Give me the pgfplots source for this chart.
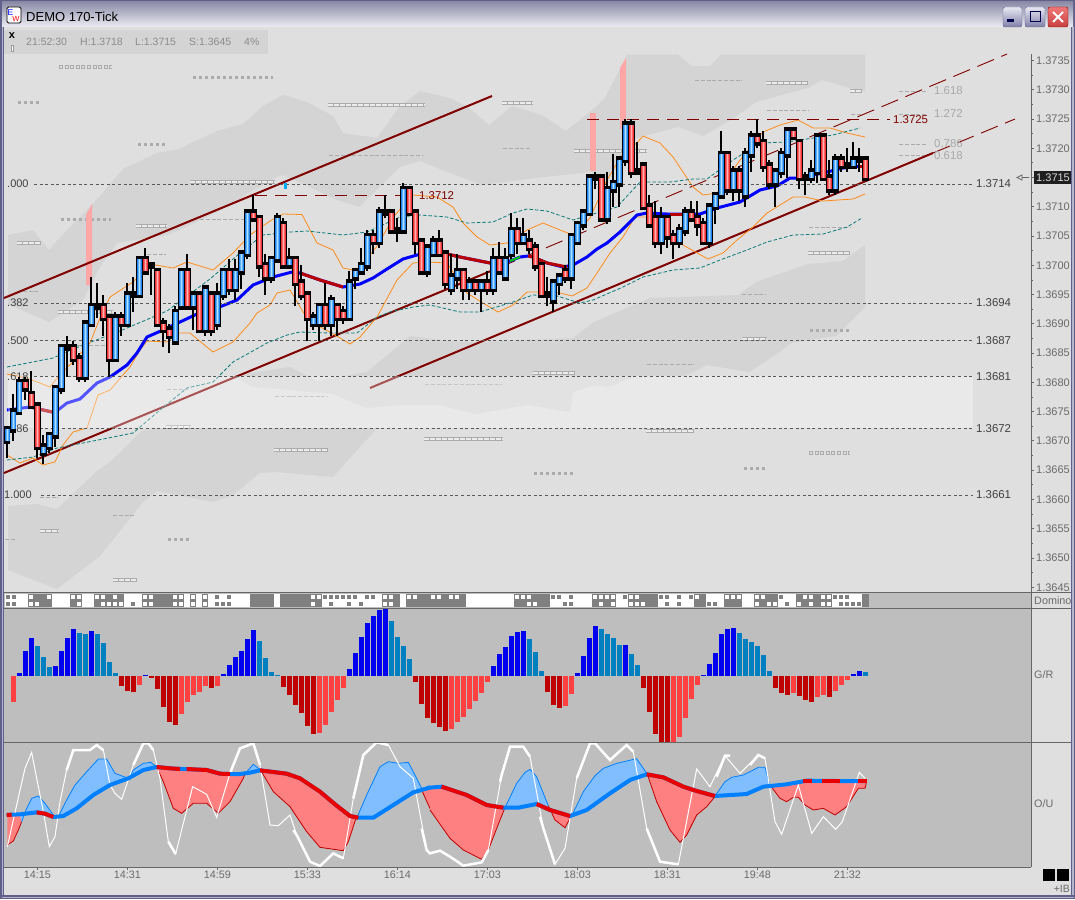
\documentclass[border=0pt]{standalone}
\usepackage{fontspec}
\setmainfont{Liberation Sans}
\usepackage{pgfplots}
\usepackage{pgfplotstable}
\pgfplotsset{compat=1.18}
\newcommand\fs[1]{\fontsize{#1}{#1}\selectfont}
\definecolor{bgc}{HTML}{DFDFDF}
\definecolor{cloud}{HTML}{D4D4D4}
\definecolor{panel}{HTML}{BEBEBE}
\definecolor{chan}{HTML}{800000}
\definecolor{lab}{HTML}{6A6A6A}
\definecolor{fibg}{HTML}{A8A8A8}
\definecolor{mk}{HTML}{ABABAB}
\definecolor{dom}{HTML}{808080}
\definecolor{orng}{HTML}{FF8C1A}
\definecolor{teal2}{HTML}{0A7A78}
\definecolor{mred}{HTML}{B80000}
\definecolor{ured}{HTML}{E80000}
\definecolor{ublue}{HTML}{0080FF}
\definecolor{fred}{HTML}{FF8080}
\definecolor{fblue}{HTML}{80BEFF}
\definecolor{barb}{HTML}{0000F0}
\definecolor{bars}{HTML}{0080C0}
\definecolor{bard}{HTML}{C00000}
\definecolor{barl}{HTML}{FF4040}
\definecolor{frm}{HTML}{60608A}
\definecolor{frl}{HTML}{B4B4CC}

\pgfplotstableread{
k L lo hi H
0 1.3667 1.3670 1.3672 1.3672
1 1.3670 1.3672 1.3675 1.3678
2 1.3675 1.3675 1.3680 1.3681
6 1.3666 1.3668 1.3669 1.3671
7 1.3668 1.3669 1.3671 1.3671
8 1.3669 1.3671 1.3679 1.3679
9 1.3678 1.3679 1.3686 1.3686
13 1.3680 1.3681 1.3690 1.3690
14 1.3690 1.3690 1.3693 1.3698
18 1.3684 1.3684 1.3691 1.3692
20 1.3690 1.3690 1.3695 1.3697
22 1.3695 1.3695 1.3701 1.3701
28 1.3687 1.3687 1.3692 1.3693
29 1.3693 1.3693 1.3699 1.3699
31 1.3689 1.3693 1.3695 1.3695
33 1.3688 1.3689 1.3696 1.3696
35 1.3689 1.3690 1.3695 1.3697
36 1.3694 1.3695 1.3699 1.3699
38 1.3694 1.3696 1.3699 1.3701
39 1.3696 1.3699 1.3702 1.3702
40 1.3701 1.3702 1.3709 1.3709
44 1.3697 1.3698 1.3701 1.3701
45 1.3701 1.3701 1.3708 1.3709
47 1.3700 1.3700 1.3701 1.3703
51 1.3689 1.3690 1.3691 1.3692
52 1.3687 1.3690 1.3693 1.3693
54 1.3688 1.3690 1.3694 1.3695
57 1.3691 1.3691 1.3697 1.3699
58 1.3696 1.3698 1.3699 1.3699
59 1.3699 1.3699 1.3700 1.3703
60 1.3699 1.3700 1.3705 1.3706
62 1.3703 1.3704 1.3709 1.3710
66 1.3706 1.3706 1.3713 1.3714
70 1.3698 1.3699 1.3703 1.3703
71 1.3702 1.3702 1.3704 1.3705
74 1.3695 1.3696 1.3698 1.3702
75 1.3696 1.3698 1.3699 1.3702
77 1.3694 1.3696 1.3697 1.3698
79 1.3692 1.3696 1.3697 1.3697
81 1.3695 1.3696 1.3701 1.3703
83 1.3698 1.3698 1.3701 1.3703
84 1.3701 1.3702 1.3706 1.3709
86 1.3704 1.3704 1.3705 1.3708
91 1.3692 1.3694 1.3697 1.3697
92 1.3695 1.3697 1.3698 1.3698
94 1.3696 1.3698 1.3705 1.3705
95 1.3704 1.3704 1.3707 1.3707
96 1.3706 1.3707 1.3709 1.3709
97 1.3709 1.3709 1.3715 1.3715
100 1.3707 1.3708 1.3713 1.3716
101 1.3710 1.3713 1.3714 1.3719
102 1.3710 1.3714 1.3718 1.3718
103 1.3717 1.3718 1.3724 1.3725
109 1.3702 1.3704 1.3708 1.3710
112 1.3703 1.3704 1.3706 1.3707
113 1.3705 1.3706 1.3709 1.3710
117 1.3703 1.3704 1.3710 1.3710
118 1.3707 1.3710 1.3712 1.3712
119 1.3712 1.3712 1.3719 1.3723
121 1.3711 1.3713 1.3716 1.3717
123 1.3710 1.3712 1.3719 1.3720
124 1.3716 1.3719 1.3722 1.3723
128 1.3710 1.3714 1.3716 1.3716
129 1.3715 1.3716 1.3719 1.3720
130 1.3715 1.3719 1.3723 1.3723
134 1.3714 1.3715 1.3716 1.3718
135 1.3714 1.3716 1.3722 1.3722
138 1.3712 1.3713 1.3718 1.3719
141 1.3717 1.3717 1.3718 1.3721
}\tblBlue
\pgfplotstableread{
k L lo hi H
3 1.3677 1.3679 1.3680 1.3681
4 1.3676 1.3676 1.3678 1.3682
5 1.3667 1.3669 1.3676 1.3676
11 1.3683 1.3684 1.3686 1.3687
12 1.3680 1.3681 1.3684 1.3685
16 1.3688 1.3691 1.3693 1.3695
17 1.3681 1.3684 1.3691 1.3691
19 1.3688 1.3690 1.3691 1.3692
23 1.3699 1.3699 1.3701 1.3703
25 1.3690 1.3690 1.3699 1.3699
26 1.3686 1.3689 1.3690 1.3691
27 1.3685 1.3688 1.3689 1.3690
30 1.3693 1.3693 1.3699 1.3702
32 1.3689 1.3689 1.3695 1.3695
34 1.3688 1.3689 1.3695 1.3695
37 1.3695 1.3696 1.3699 1.3701
41 1.3708 1.3708 1.3709 1.3712
42 1.3698 1.3700 1.3708 1.3708
43 1.3695 1.3698 1.3700 1.3702
46 1.3700 1.3700 1.3707 1.3708
48 1.3693 1.3697 1.3701 1.3701
49 1.3694 1.3695 1.3697 1.3700
50 1.3687 1.3691 1.3695 1.3695
53 1.3689 1.3690 1.3693 1.3697
55 1.3688 1.3691 1.3693 1.3693
56 1.3690 1.3691 1.3692 1.3693
61 1.3702 1.3704 1.3705 1.3706
64 1.3706 1.3706 1.3709 1.3709
67 1.3709 1.3709 1.3713 1.3713
68 1.3702 1.3704 1.3709 1.3709
69 1.3699 1.3699 1.3704 1.3704
72 1.3702 1.3702 1.3704 1.3706
73 1.3696 1.3697 1.3702 1.3702
76 1.3694 1.3696 1.3699 1.3699
78 1.3695 1.3696 1.3697 1.3697
80 1.3695 1.3696 1.3697 1.3699
82 1.3699 1.3699 1.3701 1.3704
85 1.3702 1.3704 1.3706 1.3708
87 1.3702 1.3703 1.3704 1.3706
88 1.3699 1.3700 1.3703 1.3704
89 1.3695 1.3695 1.3700 1.3700
93 1.3697 1.3698 1.3699 1.3700
99 1.3708 1.3708 1.3715 1.3715
104 1.3715 1.3716 1.3724 1.3725
106 1.3710 1.3710 1.3717 1.3717
107 1.3707 1.3707 1.3710 1.3712
108 1.3703 1.3704 1.3708 1.3711
110 1.3703 1.3705 1.3708 1.3708
111 1.3701 1.3704 1.3705 1.3706
114 1.3708 1.3708 1.3709 1.3711
115 1.3705 1.3707 1.3708 1.3711
116 1.3704 1.3704 1.3707 1.3708
120 1.3712 1.3713 1.3719 1.3719
122 1.3711 1.3713 1.3716 1.3717
125 1.3720 1.3721 1.3722 1.3725
126 1.3716 1.3717 1.3721 1.3723
127 1.3713 1.3714 1.3717 1.3718
131 1.3722 1.3722 1.3723 1.3723
132 1.3713 1.3715 1.3721 1.3721
136 1.3715 1.3715 1.3722 1.3722
137 1.3712 1.3713 1.3715 1.3718
139 1.3716 1.3717 1.3718 1.3719
143 1.3715 1.3715 1.3718 1.3718
}\tblRed
\pgfplotstableread{
k L lo hi H
10 1.3681 1.3686 1.3686 1.3688
15 1.3691 1.3693 1.3693 1.3697
21 1.3692 1.3695 1.3695 1.3698
24 1.3695 1.3700 1.3700 1.3700
63 1.3708 1.3709 1.3709 1.3712
65 1.3704 1.3706 1.3706 1.3708
90 1.3693 1.3695 1.3695 1.3698
98 1.3713 1.3715 1.3715 1.3716
105 1.3716 1.3716 1.3716 1.3721
133 1.3712 1.3715 1.3715 1.3716
140 1.3716 1.3717 1.3717 1.3720
142 1.3716 1.3718 1.3718 1.3720
}\tblDoji

% a layer of candle: thick vertical error bars from the table
\newcommand\wick[1]{\addplot[draw=none,mark=none,forget plot,error bars/.cd,y dir=plus,y explicit,error mark=none,error bar style={draw=black,line width=2pt}] table[x=k,y=L,y error expr=\thisrow{H}-\thisrow{L}]{#1};}
\newcommand\bodyb[1]{\addplot[draw=none,mark=none,forget plot,error bars/.cd,y dir=plus,y explicit,error mark=none,error bar style={draw=black,line width=6.4pt}] table[x=k,y expr=\thisrow{lo}-0.00006,y error expr=\thisrow{hi}-\thisrow{lo}+0.00012]{#1};}
\newcommand\bodyc[3]{\addplot[draw=none,mark=none,forget plot,error bars/.cd,y dir=plus,y explicit,error mark=none,error bar style={draw=#2,line width=#3}] table[x=k,y=lo,y error expr=\thisrow{hi}-\thisrow{lo}]{#1};}

% marks of the profile rows (image pixel coordinates)
\newcommand\rowdots[3]{\addplot[color=mk,line width=3pt,dash pattern=on 3pt off 3pt] coordinates {(#1,#3)(#2,#3)};}
\newcommand\rowopen[3]{\addplot[color=mk,line width=4pt,dash pattern=on 4pt off 1.6pt] coordinates {(#1,#3)(#2,#3)};\addplot[color=bgc,line width=2pt,dash pattern=on 2pt off 3.6pt,dash phase=-1pt] coordinates {(#1,#3)(#2,#3)};}
\newcommand\rowbar[3]{\addplot[color=mk,line width=3.4pt] coordinates {(#1,#3)(#2,#3)};\addplot[color=bgc!60!white,line width=1.4pt,dash pattern=on 5pt off 1pt] coordinates {(#1,#3)(#2,#3)};}
\newcommand\rowdash[3]{\addplot[color=mk,line width=1pt,dash pattern=on 4pt off 1.8pt] coordinates {(#1,#3)(#2,#3)};}
\newcommand\fibl[3]{\addplot[color=black!65,line width=.8pt,dash pattern=on 3pt off 2.6pt] coordinates {(#1,#3)(#2,#3)};}
\newcommand\dom[2]{\addplot[fill=dom,draw=none] coordinates {(#1,594)(#2,594)(#2,607)(#1,607)} --cycle;}

\begin{document}
\begin{tikzpicture}
\useasboundingbox (0pt,0pt) rectangle (1075pt,-899pt);
\begin{scope}[x=1pt,y=-1pt]
% window frame
\fill[frm] (0,0) rectangle (1075,899);
\shade[top color={rgb,255:red,140;green,140;blue,168},bottom color={rgb,255:red,236;green,236;blue,243}] (2,2) rectangle (1073,27);
\fill[frl] (1.5,27) rectangle (3,897);
\fill[frl] (1072,27) rectangle (1073.5,897);
\fill[frm] (0,895) rectangle (1075,899);
\fill[frl] (1.5,896.5) rectangle (1073.5,898);
\fill[color=bgc] (4,27) rectangle (1071,895);
% panels
\fill[color=panel] (4,592) rectangle (1031,867);
\fill[color=bgc] (1031,592) rectangle (1071,895);
% title
\node[anchor=west,inner sep=0pt,text=black] at (26,17) {\fs{13}DEMO 170-Tick};
\fill[white,draw=black,line width=.8pt,rounded corners=1.5pt] (7,7) rectangle (21,23);
\node[inner sep=0pt,text=blue] at (10.5,12.5) {\fs{8.5}E};
\node[inner sep=0pt,text=red] at (16,18.5) {\fs{7.5}W};
% buttons
\shade[top color={rgb,255:red,232;green,232;blue,244},bottom color={rgb,255:red,128;green,128;blue,168},draw=frm,rounded corners=2pt] (1003,7) rectangle (1022,27);
\fill[black!70!blue] (1007,19.5) rectangle (1014,22);
\shade[top color={rgb,255:red,232;green,232;blue,244},bottom color={rgb,255:red,128;green,128;blue,168},draw=frm,rounded corners=2pt] (1025,7) rectangle (1045,27);
\draw[black!70!blue,line width=1pt] (1030,12) rectangle (1040,21.5);
\shade[top color={rgb,255:red,240;green,120;blue,120},bottom color={rgb,255:red,200;green,64;blue,64},draw=black!50!red,rounded corners=2pt] (1048,7) rectangle (1068,27);
\draw[white,line width=2pt] (1053,12) -- (1063,22) (1063,12) -- (1053,22);
\end{scope}

% ---------- picture-pixel layer: clouds, lines under the candles
\begin{axis}[at={(0pt,0pt)},anchor=north west,scale only axis,width=1075pt,height=899pt,
  xmin=0,xmax=1075,ymin=0,ymax=899,y dir=reverse,hide axis,clip=true]
% info box
\addplot[fill=cloud,draw=none] coordinates {(4,30)(268,30)(268,54)(4,54)} --cycle;
% upper cloud
\addplot[fill=cloud,draw=none] coordinates {(8,235)(33,230)(49,250)(63,234)(83,214)(100,196)(123,169)(157,153)(180,149)(193,142)(217,131)(243,124)(263,106)(283,95)(307,102)(333,116)(343,133)(377,138)(400,106)(420,91)(450,98)(468,107)(489,125)(512,106)(542,115)(566,131)(591,111)(605,98)(626,57)(626,54.5)(678,54.5)(692,66)(710,66)(721,54.5)(865,54.5)(865,91)(850,88)(822,80)(808,88)(756,102)(731,120)(703,136)(678,127)(636,138)(608,181)(591,172)(535,178)(482,185)(440,169)(420,161)(400,167)(367,199)(360,207)(337,200)(310,187)(283,175)(277,177)(253,190)(227,207)(180,230)(167,235)(117,243)(100,267)(83,300)(49,322)(8,304)} --cycle;
% middle cloud
\addplot[fill=cloud,draw=none] coordinates {(233,376)(290,367)(317,381)(367,372)(410,336)(450,341)(475,342)(573,338)(594,322)(650,298)(738,295)(756,282)(808,264)(843,261)(865,245)(865,307)(836,336)(791,343)(777,354)(749,372)(707,365)(685,376)(636,376)(608,387)(594,385)(573,392)(570,412)(528,405)(475,414)(440,405)(400,405)(367,408)(333,394)(290,390)(253,387)} --cycle;
% lower cloud
\addplot[fill=cloud,draw=none] coordinates {(8,506)(37,504)(57,509)(97,471)(110,462)(143,430)(167,428)(377,428)(333,477)(277,472)(260,473)(233,495)(213,502)(157,491)(143,502)(100,556)(57,589)(8,570)} --cycle;
% profile rows
\rowopen{59}{112}{67}\rowopen{809}{850}{453}
\rowdots{193}{273}{77}\rowdots{18}{39}{102}\rowdots{138}{165}{144}\rowdots{61}{111}{219}\rowdots{168}{189}{539}\rowdots{534}{573}{473}\rowdots{744}{765}{468}\rowdots{810}{849}{330}
\rowbar{328}{425}{105}\rowbar{190}{275}{182}\rowbar{136}{167}{226}\rowbar{17}{41}{243}\rowbar{58}{113}{312}\rowbar{166}{191}{427}\rowbar{274}{328}{450}\rowbar{424}{503}{439}\rowbar{40}{59}{531}\rowbar{113}{137}{580}\rowbar{502}{533}{103}\rowbar{574}{647}{151}\rowbar{766}{808}{83}\rowbar{850}{862}{91}\rowbar{808}{850}{253}\rowbar{533}{575}{373}\rowbar{646}{694}{431}\rowbar{742}{767}{339}
\rowdash{329}{423}{155}\rowdash{200}{260}{219}\rowdash{147}{166}{254}\rowdash{17}{40}{291}\rowdash{60}{107}{345}\rowdash{167}{190}{389}\rowdash{275}{328}{396}\rowdash{425}{502}{384}\rowdash{40}{58}{497}\rowdash{113}{136}{515}\rowdash{5}{16}{539}\rowdash{503}{532}{148}\rowdash{695}{742}{80}\rowdash{767}{808}{110}\rowdash{851}{863}{114}\rowdash{809}{850}{227}\rowdash{742}{766}{294}\rowdash{647}{694}{364}
\rowdash{899}{927}{91}\rowdash{899}{927}{114}\rowdash{899}{927}{144}\rowdash{899}{927}{155}
% pink bars
\addplot[fill=red!35!white,draw=none] coordinates {(86,215)(92,204)(92,285)(86,285)} --cycle;
\addplot[fill=red!35!white,draw=none] coordinates {(590,113)(596,113)(596,171)(590,171)} --cycle;
\addplot[fill=red!35!white,draw=none] coordinates {(620,68)(626,58)(626,129)(620,129)} --cycle;
% channel
\addplot[color=chan,line width=2pt] coordinates {(4,298)(492,96)};
\addplot[color=chan,line width=2pt] coordinates {(4,473)(498,268)};
\addplot[color=chan,line width=.9pt,dash pattern=on 18pt off 8pt] coordinates {(498,268)(1007,54)};
\addplot[color=chan,line width=2pt] coordinates {(370,388)(933,153)};
\addplot[color=chan,line width=.9pt,dash pattern=on 18pt off 8pt] coordinates {(933,153)(1015,119)};
% bands
\addplot[color=orng,line width=.8pt] coordinates {(7,374)(27,378)(50,387)(62,372)(72,363)(90,343)(100,318)(110,297)(133,282)(150,264)(173,268)(187,262)(213,270)(233,253)(250,235)(270,221)(283,214)(302,214.5)(317,243)(333,250)(343,268)(358,271)(377,246)(395,215)(413,195)(437,197)(453,207)(463,223)(477,237)(490,245)(507,243)(527,230)(543,223)(560,230)(573,235)(590,218)(607,180)(625,150)(637,143)(643,136)(660,143)(673,157)(693,187)(703,195)(717,193)(740,160)(763,132)(780,125)(798,120)(813,128)(830,128)(847,133)(865,137)};
\addplot[color=orng,line width=.8pt] coordinates {(7,455)(20,463)(33,458)(43,465)(55,462)(63,445)(73,432)(87,428)(98,395)(110,390)(130,367)(140,350)(147,341)(167,342)(178,333)(190,333)(202,343)(213,352)(233,342)(250,323)(257,313)(270,305)(277,293)(290,290)(305,315)(317,325)(335,335)(350,344)(360,337)(377,317)(397,280)(413,263)(427,262)(447,263)(467,293)(483,303)(498,312)(513,305)(527,292)(538,292)(560,293)(572,296)(587,288)(597,273)(610,253)(623,237)(635,217)(647,217)(660,228)(673,240)(683,245)(708,259)(723,253)(737,240)(753,227)(767,213)(793,197)(805,197)(823,201)(853,199)(865,194)};
\addplot[color=teal2,line width=.8pt,dash pattern=on 3.5pt off 2pt] coordinates {(7,367)(53,358)(83,345)(120,331)(167,311)(210,279)(240,253)(263,235)(290,232)(307,231)(343,235)(367,232)(400,217)(420,215)(447,217)(467,223)(493,222)(513,213)(527,209)(547,211)(573,220)(600,212)(617,207)(640,182)(670,182)(693,179)(707,179)(733,160)(760,143)(787,142)(833,135)(860,128)};
\addplot[color=teal2,line width=.8pt,dash pattern=on 3.5pt off 2pt] coordinates {(7,460)(33,457)(57,448)(83,443)(113,437)(133,433)(160,410)(187,388)(213,382)(233,362)(267,343)(287,335)(300,332)(330,333)(357,333)(377,317)(390,312)(413,307)(430,305)(460,312)(480,312)(513,302)(533,295)(557,296)(580,303)(593,300)(623,287)(643,277)(673,270)(700,268)(720,260)(747,250)(767,242)(793,235)(823,234)(847,227)(862,218)};
% moving average
\addplot[color=blue,line width=3pt] coordinates {(7,410)(30,407)(52,412)(58,410)(67,403)(80,399)(97,383)(110,377)(127,365)(137,353)(147,337)(163,330)(180,322)(197,314)(222,306)(237,300)(253,285)(273,277)(292,272)(300,273)(320,280)(343,287)(360,284)(373,278)(387,269)(403,259)(417,255)(437,254)(447,254)(460,257)(480,261)(490,263)(510,261)(520,257)(528,256)(533,257)(547,263)(563,267)(573,265)(587,257)(597,249)(607,243)(620,232)(637,215)(647,213)(667,214)(690,214)(700,214)(717,208)(740,202)(760,190)(777,186)(790,178)(800,178)(827,172)(843,168)(860,166)};
\addplot[color=mred,line width=3pt] coordinates {(30,407)(52,412)};
\addplot[color=mred,line width=3pt] coordinates {(300,273)(320,280)(343,287)};
\addplot[color=mred,line width=3pt] coordinates {(437,254)(447,254)(460,257)(480,261)(490,263)};
\addplot[color=mred,line width=3pt] coordinates {(528,256)(533,257)(547,263)(567,267)};
\addplot[color=mred,line width=3pt] coordinates {(670,214)(690,214)};
\addplot[color=mred,line width=3pt] coordinates {(858,166)(865,166)};
\addplot[color=green!80!black,line width=2pt] coordinates {(510,261)(520,257)};
% light band, over the lines
\addplot[fill=white,fill opacity=.33,draw=none] coordinates {(8,376)(973,376)(973,428)(8,428)} --cycle;
% fib lines
\fibl{34}{973}{184}\fibl{34}{973}{303}\fibl{34}{973}{340.5}\fibl{34}{973}{376.5}\fibl{34}{973}{428.5}\fibl{41}{973}{495}
% horizontal levels
\addplot[color=chan,line width=.9pt,dash pattern=on 12pt off 8pt] coordinates {(255,195)(415,195)};
\addplot[color=chan,line width=.9pt,dash pattern=on 12pt off 8pt] coordinates {(587,119.5)(890,119.5)};
\addplot[fill=cyan,draw=none] coordinates {(284,183)(287,183)(287,189)(284,189)} --cycle;
% texts
\node[anchor=west,inner sep=0pt,text=black!75] at (axis cs:7,184) {\fs{11}.000};
\node[anchor=west,inner sep=0pt,text=black!75] at (axis cs:7,303) {\fs{11}.382};
\node[anchor=west,inner sep=0pt,text=black!75] at (axis cs:7,340.5) {\fs{11}.500};
\node[anchor=west,inner sep=0pt,text=black!75] at (axis cs:7,376.5) {\fs{11}.618};
\node[anchor=west,inner sep=0pt,text=black!75] at (axis cs:7,428.5) {\fs{11}.786};
\node[anchor=west,inner sep=0pt,text=black!75] at (axis cs:4,495) {\fs{11}1.000};
\node[anchor=west,inner sep=0pt,text=black!75] at (axis cs:976,184) {\fs{11.4}1.3714};
\node[anchor=west,inner sep=0pt,text=black!75] at (axis cs:976,303) {\fs{11.4}1.3694};
\node[anchor=west,inner sep=0pt,text=black!75] at (axis cs:976,340.5) {\fs{11.4}1.3687};
\node[anchor=west,inner sep=0pt,text=black!75] at (axis cs:976,376.5) {\fs{11.4}1.3681};
\node[anchor=west,inner sep=0pt,text=black!75] at (axis cs:976,428.5) {\fs{11.4}1.3672};
\node[anchor=west,inner sep=0pt,text=black!75] at (axis cs:976,495) {\fs{11.4}1.3661};
\node[anchor=west,inner sep=0pt,text=chan] at (axis cs:419,195.5) {\fs{11.4}1.3712};
\node[anchor=west,inner sep=0pt,text=chan] at (axis cs:893,119.5) {\fs{11.4}1.3725};
\node[anchor=west,inner sep=0pt,text=fibg] at (axis cs:934,91) {\fs{11.4}1.618};
\node[anchor=west,inner sep=0pt,text=fibg] at (axis cs:934,114) {\fs{11.4}1.272};
\node[anchor=west,inner sep=0pt,text=fibg] at (axis cs:934,144) {\fs{11.4}0.786};
\node[anchor=west,inner sep=0pt,text=fibg] at (axis cs:934,155.5) {\fs{11.4}0.618};
\node[anchor=west,inner sep=0pt,text=black!45] at (axis cs:26,42) {\fs{10.5}21:52:30};
\node[anchor=west,inner sep=0pt,text=black!45] at (axis cs:80,42) {\fs{10.5}H:1.3718};
\node[anchor=west,inner sep=0pt,text=black!45] at (axis cs:135,42) {\fs{10.5}L:1.3715};
\node[anchor=west,inner sep=0pt,text=black!45] at (axis cs:189,42) {\fs{10.5}S:1.3645};
\node[anchor=west,inner sep=0pt,text=black!45] at (axis cs:244,42) {\fs{10.5}4\%};
\node[inner sep=0pt,text=black] at (axis cs:12,36) {\fs{11}\bfseries x};
\addplot[fill=white,draw=black!40,line width=.4pt] coordinates {(11,45)(13.5,45)(13.5,51)(11,51)} --cycle;
% domino strip
\addplot[fill=white,draw=none] coordinates {(5,594)(869,594)(869,607)(5,607)} --cycle;
\dom{28.3}{51.7}\dom{70}{81.7}\dom{94}{124}\dom{142}{184}\dom{190}{196}\dom{202}{208}\dom{250}{274}\dom{280}{322}\dom{382}{400}\dom{406}{466}\dom{514}{550}\dom{592}{616}\dom{628}{658}\dom{694}{706}\dom{724}{742}\dom{754}{778}\dom{796}{832}\dom{862}{869}
\addplot[only marks,mark=square*,mark size=1.5pt,color=white] coordinates {(31,597)(31,603.5)(37,603.5)(49,597)(73,597)(79,597)(79,603.5)(97,597)(103,597)(115,597)(103,603.5)(109,603.5)(115,603.5)(121,603.5)(145,597)(151,597)(145,603.5)(151,603.5)(175,597)(181,597)(175,603.5)(181,603.5)(193,597)(193,603.5)(205,597)(205,603.5)(313,597)(319,597)(313,603.5)(385,597)(391,597)(385,603.5)(391,603.5)(409,597)(415,597)(433,597)(439,597)(451,597)(457,597)(517,597)(523,597)(529,597)(529,603.5)(535,603.5)(595,597)(601,597)(607,597)(613,597)(601,603.5)(613,603.5)(631,597)(637,597)(631,603.5)(637,603.5)(643,603.5)(697,597)(727,597)(733,597)(739,597)(757,597)(763,597)(757,603.5)(769,603.5)(775,603.5)(799,603.5)(805,597)(811,597)(811,603.5)(823,597)(829,597)(823,603.5)(829,603.5)};
\addplot[only marks,mark=square*,mark size=1.5pt,color=dom] coordinates {(7.3,597)(13.3,597)(7.3,603.5)(13.3,603.5)(133,603.5)(217,597)(229,597)(217,603.5)(223,603.5)(229,603.5)(325,597)(331,597)(337,597)(343,597)(349,597)(355,597)(367,597)(331,603.5)(349,603.5)(361,603.5)(373,597)(553,597)(559,597)(571,597)(565,603.5)(571,603.5)(625,597)(661,597)(667,597)(679,597)(691,597)(667,603.5)(679,603.5)(715,603.5)(709,603.5)(781,597)(787,603.5)(835,597)(841,597)(847,597)(841,603.5)(847,603.5)(853,603.5)(859,603.5)};
\end{axis}

% ---------- candles on the price axis
\begin{axis}[at={(4pt,-54pt)},anchor=north west,scale only axis,width=1027pt,height=538.5pt,
  xmin=-0.55,xmax=170.617,ymin=1.36441,ymax=1.37361,
  axis x line=none,axis y line*=right,axis line style={color=black!60,line width=1pt},
  xtick=\empty,
  ytick={1.3645,1.3650,1.3655,1.3660,1.3665,1.3670,1.3675,1.3680,1.3685,1.3690,1.3695,1.3700,1.3705,1.3710,1.3715,1.3720,1.3725,1.3730,1.3735},
  yticklabels={1.3645,1.3650,1.3655,1.3660,1.3665,1.3670,1.3675,1.3680,1.3685,1.3690,1.3695,1.3700,1.3705,1.3710,1.3715,1.3720,1.3725,1.3730,1.3735},
  minor y tick num=1,tick align=outside,major tick length=3pt,minor tick length=2pt,
  tick style={color=black!60,line width=.8pt},
  yticklabel style={font=\fs{11},text=lab,inner sep=0pt,xshift=2pt}]
\wick{\tblBlue}\wick{\tblRed}\wick{\tblDoji}
\bodyb{\tblBlue}\bodyb{\tblRed}\bodyb{\tblDoji}
\bodyc{\tblBlue}{{rgb,255:red,30;green,128;blue,240}}{5pt}
\bodyc{\tblBlue}{{rgb,255:red,96;green,176;blue,248}}{3.2pt}
\bodyc{\tblBlue}{{rgb,255:red,176;green,224;blue,255}}{1.3pt}
\bodyc{\tblRed}{{rgb,255:red,240;green,48;blue,48}}{5pt}
\bodyc{\tblRed}{{rgb,255:red,255;green,104;blue,104}}{3.2pt}
\bodyc{\tblRed}{{rgb,255:red,255;green,176;blue,176}}{1.3pt}
\end{axis}

% ---------- G/R
\begin{axis}[at={(4pt,-609pt)},anchor=north west,scale only axis,width=1027pt,height=133pt,
  xmin=-1.55,xmax=169.62,ymin=-199.5,ymax=199.5,hide axis]
\addplot[ycomb,mark=none,color=barb,line width=5pt] coordinates {(1,8)(2,74)(3,113)(7,29)(8,74)(9,113)(10,140)(13,134)(22,3)(35,5)(36,32)(37,56)(38,74)(39,110)(40,137)(56,20)(57,68)(58,116)(59,158)(60,179)(61,197)(62,200)(80,29)(81,65)(82,86)(83,119)(84,131)(85,134)(94,8)(95,59)(96,113)(97,149)(102,92)(115,2)(116,35)(117,68)(118,125)(119,140)(120,143)(140,5)(141,14)};
\addplot[ycomb,mark=none,color=bars,line width=5pt] coordinates {(4,89)(5,56)(6,26)(11,128)(12,125)(14,125)(15,98)(16,41)(17,8)(41,104)(42,53)(43,11)(44,2)(63,164)(64,116)(65,89)(66,50)(86,110)(87,71)(88,14)(98,140)(99,125)(100,113)(101,92)(103,65)(104,32)(121,128)(122,110)(123,101)(124,89)(125,62)(126,14)(142,11)};
\addplot[ycomb,mark=none,color=bard,line width=5pt] coordinates {(18,-30)(19,-45)(20,-48)(23,-6)(24,-39)(25,-93)(26,-138)(27,-147)(33,-36)(45,-33)(46,-57)(47,-87)(48,-111)(49,-150)(50,-174)(67,-18)(68,-84)(69,-126)(70,-141)(71,-153)(72,-165)(89,-48)(90,-87)(91,-96)(105,-36)(106,-108)(107,-174)(108,-200)(109,-200)(127,-36)(128,-51)(129,-57)(131,-60)(132,-72)(133,-78)(136,-63)};
\addplot[ycomb,mark=none,color=barl,line width=5pt] coordinates {(0,-80)(21,-27)(28,-114)(29,-78)(30,-57)(31,-48)(32,-30)(34,-30)(51,-171)(52,-147)(53,-108)(54,-72)(55,-36)(73,-159)(74,-138)(75,-123)(76,-99)(77,-75)(78,-51)(79,-18)(92,-90)(93,-54)(110,-200)(111,-183)(112,-126)(113,-69)(114,-27)(130,-51)(134,-63)(135,-57)(137,-45)(138,-27)(139,-12)};
\end{axis}

% ---------- O/U, left part
\begin{axis}[at={(4pt,-742.5pt)},anchor=north west,scale only axis,width=1027pt,height=124.5pt,
  xmin=12,xmax=3093,ymin=22.5,ymax=396,y dir=reverse,hide axis]
\addplot[fill=fred,draw=none] coordinates {(22,330)(40,318)(55,285)(65,260)(60,238)(22,240)} --cycle;
\addplot[fill=fblue,draw=none] coordinates {(65,260)(80,220)(95,190)(115,183)(135,205)(160,240)(135,236)(110,232)(60,238)} --cycle;
\addplot[fill=fblue,draw=none] coordinates {(175,245)(200,195)(225,150)(260,110)(295,72)(320,72)(345,115)(385,130)(400,105)(430,85)(452,82)(470,96)(430,105)(385,130)(330,150)(280,180)(230,220)(190,243)} --cycle;
\addplot[fill=fred,draw=none] coordinates {(470,96)(490,140)(520,220)(545,235)(580,205)(620,205)(655,235)(690,200)(730,130)(735,116)(690,117)(660,116)(620,105)(550,102)(510,100)} --cycle;
\addplot[fill=fblue,draw=none] coordinates {(735,116)(760,88)(780,104)(750,113)} --cycle;
\addplot[fill=fred,draw=none] coordinates {(782,106)(820,170)(870,215)(920,290)(960,337)(1030,347)(1045,320)(1068,250)(1050,243)(1010,212)(960,170)(900,130)(860,116)} --cycle;
\addplot[fill=fblue,draw=none] coordinates {(1070,250)(1100,180)(1140,95)(1165,80)(1195,85)(1225,82)(1245,120)(1265,160)(1240,172)(1180,210)(1120,248)} --cycle;
\addplot[fill=fred,draw=none] coordinates {(1265,165)(1292,225)(1292,158)} --cycle;
\addplot[color=bard,line width=.8pt] coordinates {(22,330)(40,318)(55,285)(65,260)};
\addplot[color=ublue,line width=.8pt] coordinates {(65,260)(80,220)(95,190)(115,183)(135,205)(160,240)};
\addplot[color=ublue,line width=.8pt] coordinates {(175,245)(200,195)(225,150)(260,110)(295,72)(320,72)(345,115)(385,130)(400,105)(430,85)(452,82)(470,96)};
\addplot[color=bard,line width=.8pt] coordinates {(470,96)(490,140)(520,220)(545,235)(580,205)(620,205)(655,235)(690,200)(730,130)(735,116)};
\addplot[color=ublue,line width=.8pt] coordinates {(735,116)(760,88)(780,104)};
\addplot[color=bard,line width=.8pt] coordinates {(782,106)(820,170)(870,215)(920,290)(960,337)(1030,347)(1045,320)(1068,250)};
\addplot[color=ublue,line width=.8pt] coordinates {(1070,250)(1100,180)(1140,95)(1165,80)(1195,85)(1225,82)(1245,120)(1265,160)};
\addplot[color=bard,line width=.8pt] coordinates {(1265,165)(1292,225)};
\addplot[color=white,line width=1pt] coordinates {(22,335)(50,210)(75,100)(95,52)(110,130)(130,230)(148,335)(165,305)(180,200)(200,105)(220,45)(270,45)(290,30)(310,45)(330,150)(345,175)(365,193)(400,90)(430,25)(445,25)(460,45)(480,130)(505,320)(527,357)(550,265)(578,155)(620,178)(650,247)(690,115)(720,40)(760,25)(780,90)(810,270)(835,272)(870,240)(890,300)(930,380)(960,393)(1000,355)(1030,370)(1060,190)(1090,60)(1130,22)(1165,30)(1200,95)(1240,130)(1280,345)(1292,357)};
\addplot[color=white,line width=2.5pt] coordinates {(200,105)(220,45)(270,45)(290,30)(310,45)};
\addplot[color=white,line width=2.5pt] coordinates {(400,90)(430,25)(445,25)(460,45)};
\addplot[color=white,line width=2.5pt] coordinates {(505,320)(527,357)};
\addplot[color=white,line width=2.5pt] coordinates {(690,115)(720,40)(760,25)(780,90)};
\addplot[color=white,line width=2.5pt] coordinates {(880,285)(890,300)(930,380)(960,393)(1000,355)(1030,370)};
\addplot[color=white,line width=2.5pt] coordinates {(1060,190)(1090,60)(1130,22)(1165,30)};
\addplot[color=white,line width=2.5pt] coordinates {(1265,280)(1280,345)(1292,357)};
\addplot[color=ublue,line width=4pt] coordinates {(20,240)(35,239)(60,238)(110,232)(135,236)(160,246)(190,243)(230,220)(280,180)(330,150)(385,130)(430,105)(470,96)(510,100)(550,102)(620,105)(660,116)(690,117)(720,117)(750,113)(780,106)(860,116)(900,130)(960,170)(1010,212)(1050,243)(1075,248)(1120,248)(1180,210)(1240,172)(1292,157)};
\addplot[color=ured,line width=4pt] coordinates {(20,240)(35,239)};
\addplot[color=ured,line width=4pt] coordinates {(110,232)(135,236)(160,246)};
\addplot[color=ured,line width=4pt] coordinates {(470,96)(510,100)(540,102)};
\addplot[color=ured,line width=4pt] coordinates {(560,102)(620,105)(660,116)(690,117)};
\addplot[color=ured,line width=4pt] coordinates {(780,106)(860,116)(900,130)(960,170)(1010,212)(1050,243)(1075,248)};
\end{axis}

% ---------- O/U, right part
\begin{axis}[at={(4pt,-742.5pt)},anchor=north west,scale only axis,width=1027pt,height=124.5pt,
  xmin=-1278,xmax=1803,ymin=22.5,ymax=396,y dir=reverse,hide axis]
\addplot[fill=fred,draw=none] coordinates {(0,225)(60,310)(100,345)(155,373)(175,345)(210,255)(225,218)(170,210)(110,180)(35,155)(0,158)} --cycle;
\addplot[fill=fblue,draw=none] coordinates {(225,218)(260,145)(285,112)(300,103)(320,125)(350,200)(355,212)(320,207)(265,218)} --cycle;
\addplot[fill=fred,draw=none] coordinates {(355,212)(375,255)(405,278)(420,250)(425,243)(360,225)} --cycle;
\addplot[fill=fblue,draw=none] coordinates {(425,243)(460,170)(495,122)(520,100)(560,85)(620,71)(640,100)(652,118)(600,135)(540,175)(470,225)} --cycle;
\addplot[fill=fred,draw=none] coordinates {(652,118)(680,200)(720,285)(750,322)(770,300)(800,240)(830,215)(855,185)(800,168)(760,155)(700,127)} --cycle;
\addplot[fill=fblue,draw=none] coordinates {(855,183)(885,140)(905,127)(940,120)(985,97)(1005,97)(1020,150)(1000,155)(950,177)} --cycle;
\addplot[fill=fred,draw=none] coordinates {(1020,150)(1050,190)(1070,200)(1090,187)(1105,187)(1125,210)(1150,225)(1180,220)(1215,240)(1250,215)(1285,160)(1305,160)(1310,138)(1220,138)(1130,137)(1070,148)} --cycle;
\addplot[color=bard,line width=.8pt] coordinates {(0,225)(60,310)(100,345)(155,373)(175,345)(210,255)(225,218)};
\addplot[color=ublue,line width=.8pt] coordinates {(225,218)(260,145)(285,112)(300,103)(320,125)(350,200)(355,212)};
\addplot[color=bard,line width=.8pt] coordinates {(355,212)(375,255)(405,278)(420,250)(425,243)};
\addplot[color=ublue,line width=.8pt] coordinates {(425,243)(460,170)(495,122)(520,100)(560,85)(620,71)(640,100)(652,118)};
\addplot[color=bard,line width=.8pt] coordinates {(652,118)(680,200)(720,285)(750,322)(770,300)(800,240)(830,215)(855,185)};
\addplot[color=ublue,line width=.8pt] coordinates {(855,183)(885,140)(905,127)(940,120)(985,97)(1005,97)(1020,150)};
\addplot[color=bard,line width=.8pt] coordinates {(1020,150)(1050,190)(1070,200)(1090,187)(1105,187)(1125,210)(1150,225)(1180,220)(1215,240)(1250,215)(1285,160)(1305,160)(1310,140)};
\addplot[color=white,line width=1pt] coordinates {(0,355)(30,347)(60,365)(100,392)(155,382)(175,345)(215,120)(240,35)(280,35)(300,65)(340,280)(375,388)(405,340)(440,130)(480,25)(495,25)(540,75)(590,30)(610,50)(650,280)(690,380)(745,388)(800,102)(840,155)(885,62)(930,115)(985,60)(1005,70)(1035,260)(1055,298)(1105,150)(1145,295)(1180,245)(1217,283)(1237,260)(1288,112)(1305,130)};
\addplot[color=white,line width=2.5pt] coordinates {(0,355)(30,347)(60,365)(100,392)(155,382)(175,345)};
\addplot[color=white,line width=2.5pt] coordinates {(210,140)(215,120)(240,35)(280,35)(300,65)};
\addplot[color=white,line width=2.5pt] coordinates {(330,245)(340,280)(375,388)};
\addplot[color=white,line width=2.5pt] coordinates {(440,130)(480,25)(495,25)(540,75)(590,30)(610,50)};
\addplot[color=white,line width=2.5pt] coordinates {(650,280)(690,380)(745,388)};
\addplot[color=white,line width=2.5pt] coordinates {(860,125)(885,62)(900,62)};
\addplot[color=white,line width=2.5pt] coordinates {(960,90)(985,60)(1005,70)};
\addplot[color=ublue,line width=4pt] coordinates {(-10,159)(0,158)(35,155)(110,180)(170,210)(220,218)(265,218)(320,207)(360,225)(420,243)(470,225)(540,175)(600,135)(650,118)(700,127)(760,155)(800,168)(855,183)(950,177)(1000,155)(1070,148)(1130,137)(1220,138)(1310,138)};
\addplot[color=ured,line width=4pt] coordinates {(35,155)(110,180)(170,210)(220,218)};
\addplot[color=ured,line width=4pt] coordinates {(320,207)(360,225)(420,243)};
\addplot[color=ured,line width=4pt] coordinates {(650,118)(700,127)(760,155)(800,168)(855,183)};
\addplot[color=ured,line width=4pt] coordinates {(1120,137)(1145,137)};
\addplot[color=ured,line width=4pt] coordinates {(1175,138)(1230,138)};
\addplot[color=ured,line width=4pt] coordinates {(1285,138)(1310,138)};
\end{axis}

% ---------- time axis
\begin{axis}[at={(4pt,-866pt)},anchor=north west,scale only axis,width=1027pt,height=1pt,
  xmin=-0.55,xmax=170.617,ymin=0,ymax=1,
  axis y line=none,axis x line*=bottom,axis line style={color=black!60,line width=1pt},
  xtick={5,20,35,50,65,80,95,110,125,140},
  xticklabels={14:15,14:31,14:59,15:33,16:14,17:03,18:03,18:31,19:48,21:32},
  tick align=outside,major tick length=3pt,
  tick style={color=black!60,line width=.8pt},
  xticklabel style={font=\fs{10.8},text=lab,inner sep=0pt,yshift=-1pt}]
\addplot[draw=none] coordinates {(0,0)(1,1)};
\end{axis}

\begin{scope}[x=1pt,y=-1pt]
\draw[black!60,line width=1pt] (4,592.5) -- (1071,592.5);
\draw[black!60,line width=1pt] (4,608.5) -- (1071,608.5);
\draw[black!60,line width=1pt] (4,742) -- (1071,742);
\draw[black!60,line width=1pt] (1031,592) -- (1031,867);
\fill[black!88] (1034,171) rectangle (1071,184);
\node[anchor=west,inner sep=0pt,text=black!15] at (1036,177.5) {\fs{11}1.3715};
\draw[black!60,line width=.7pt] (1017,177.5) -- (1022,175) -- (1022,180) -- cycle (1022,177.5) -- (1029,177.5);
\node[anchor=west,inner sep=0pt,text=lab] at (1034,600.5) {\fs{10.8}Domino};
\node[anchor=west,inner sep=0pt,text=lab] at (1034,675) {\fs{10.8}G/R};
\node[anchor=west,inner sep=0pt,text=lab] at (1034,804) {\fs{10.8}O/U};
\fill[black] (1043,869) rectangle (1055,881);
\fill[black] (1057,869) rectangle (1069,881);
\node[anchor=east,inner sep=0pt,text=lab] at (1070,889) {\fs{10.5}+IB};
\end{scope}
\end{tikzpicture}
\end{document}
